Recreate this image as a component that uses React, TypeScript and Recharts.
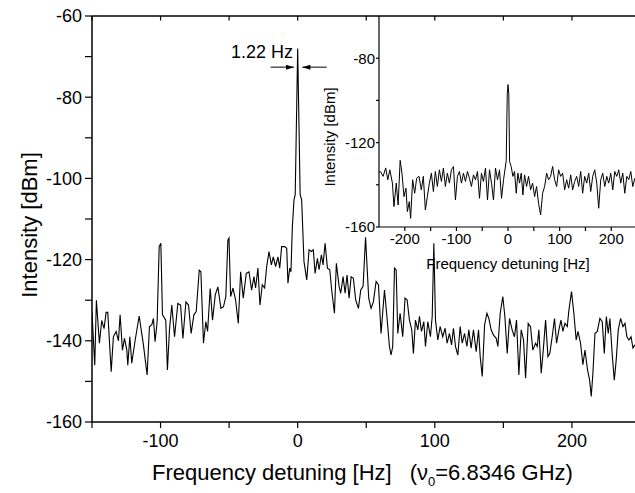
import { LineChart, Line, XAxis, YAxis, ReferenceLine } from 'recharts'

const FONT = '"Liberation Sans", Arial, sans-serif'

// main spectrum, frequency detuning [Hz]
const mainFreq = [
  -150, -148, -146.8, -144.6, -142.9, -141.2, -139.7, -138.5, -136, -134.4,
  -132.4, -130.7, -129.5, -127.8, -126.3, -124.6, -123.9, -122.4, -121, -118.5,
  -115.6, -112.5, -109.8, -108.1, -106.4, -105.2, -104, -102.5, -101, -99.8,
  -98.6, -96.2, -95, -93.5, -91.8, -89.8, -87.4, -85.4, -83.7, -81.5,
  -79.6, -77.7, -75.7, -74, -71.8, -70.6, -68.7, -67, -65.7, -63.8,
  -62.1, -60.1, -58.2, -56, -54.1, -52.4, -50.9, -50.1, -48.9, -47.2,
  -45.3, -43.3, -41.6, -39.7, -37.5, -35.5, -33.6, -31.9, -30.7, -29,
  -27.5, -25.8, -24.1, -22.6, -20.9, -19.2, -17.8, -16.1, -14.4, -13.1,
  -11.7, -9.5, -8, -7.1, -5.8, -4.9, -3.9, -2.7, -1.8, -0.7,
  0, 0.7, 1.8, 2.9, 4.6, 6.6, 8.3, 10, 11.4, 12.7,
  14.4, 15.6, 17.3, 18.5, 20, 21.7, 23.4, 24.8, 26.8, 28.2,
  30.2, 31.4, 33.1, 34.6, 36, 37.5, 39, 40.6, 42.3, 44.3,
  46, 47.7, 49.5, 51.8, 53.5, 55.2, 57.2, 58.9, 60.8, 63.3,
  65.2, 66.9, 68.1, 69.3, 70.6, 71.8, 73, 74.7, 76.6, 78.3,
  79.8, 81.5, 83.2, 84.4, 85.9, 87.6, 88.8, 90.3, 92, 93.2,
  94.9, 96.8, 98.1, 99.3, 100.5, 102.2, 103.9, 105.8, 107.5, 109,
  110.7, 112.2, 113.6, 115.1, 116.8, 118.5, 120, 121.7, 123.4, 124.8,
  126.5, 128.2, 130.2, 131.9, 133.1, 134.6, 136.3, 138, 139.4, 141.1,
  142.8, 144.8, 146, 147.7, 149.6, 151.1, 152.8, 154.5, 156.4, 158.1,
  159.6, 161.3, 163, 164.7, 166.2, 168.1, 169.8, 171.5, 173.5, 174.7,
  175.9, 177.6, 179.1, 180.8, 182.5, 183.9, 185.6, 187.3, 188.8, 190.5,
  192, 193.4, 194.9, 196.6, 197.8, 199.7, 201.4, 203.1, 204.4, 206.3,
  208, 209.5, 211.4, 212.9, 214.1, 215.3, 216.8, 218.5, 220.4, 222.1,
  223.6, 225.1, 226.5, 227.7, 229.4, 230.9, 232.3, 233.8, 235.5, 237.2,
  238.7, 240.1, 241.6, 243.1, 244.5, 246,
]

// main spectrum, intensity [dBm]
const mainDb = [
  -133, -146, -130, -140.6, -135, -137, -133, -133, -147.6, -139,
  -137.7, -140, -133.6, -142.3, -139.4, -142.3, -146, -139, -145.5, -139.8,
  -133.9, -141, -148.4, -136.5, -136.1, -134.5, -140.2, -135.3, -116.8, -116,
  -133.6, -134.9, -147.2, -137.3, -131.2, -139, -130.8, -131.2, -139.4, -130.4,
  -131.2, -138.2, -133.6, -132.8, -122.6, -123, -140.6, -135.3, -137.7, -127.1,
  -134.9, -128.7, -126.7, -132, -131.6, -129.1, -115.2, -114.7, -129.1, -127,
  -129.9, -135.7, -123, -129.5, -123.4, -123, -127.5, -124.2, -127, -122.1,
  -131.2, -126.2, -127, -121.7, -118, -121.3, -119.3, -121.7, -119.3, -122.1,
  -116.8, -116.8, -117.2, -125.8, -122.1, -123, -112, -105.3, -104, -82,
  -68, -82, -104, -105.3, -120.5, -125, -117.6, -118, -117.6, -123.4,
  -119.7, -122.5, -118.8, -121.3, -116, -122.1, -122.5, -127.5, -133.2, -120.9,
  -126.6, -128.3, -124.2, -128.3, -123.8, -129.5, -124.2, -124.6, -129.9, -132,
  -127.5, -126.6, -114.5, -129.5, -132, -130.4, -125.4, -126.2, -138.2, -127.5,
  -134.5, -141.4, -143.5, -141.4, -122.1, -122.5, -138.2, -133.2, -139, -129.5,
  -129.9, -134.9, -137.3, -143.1, -134.9, -137.3, -134, -137.7, -135.3, -141.4,
  -135.3, -139, -134, -116, -134.9, -139.8, -136.5, -139, -136.9, -140.6,
  -138.2, -141, -136.9, -141.4, -143.5, -136.5, -140.6, -138.2, -141.4, -137.3,
  -141.8, -137.3, -142.7, -137.3, -143.9, -148.8, -136.1, -133.2, -134.5, -137.3,
  -138.6, -139.4, -141.4, -133.2, -129.1, -134, -143.1, -134.5, -137.3, -139,
  -134.9, -148.4, -137.3, -139.8, -149.2, -135.7, -136.5, -142.3, -140.6, -141.4,
  -137.3, -148, -142.3, -134.9, -143.9, -143.1, -139, -134.5, -140.6, -137.3,
  -134.9, -137.7, -135.7, -136.5, -132.4, -127.9, -133.2, -139.8, -137.7, -140.6,
  -145.9, -142.3, -147.2, -149.7, -153.7, -148, -138.2, -137.7, -134.5, -135.3,
  -143.1, -134, -138.2, -134.5, -143.5, -149.7, -144.7, -137.3, -134.5, -136.5,
  -135.7, -139, -139.8, -139, -141.8, -141,
]

// inset spectrum (wide span)
const insetFreq = [
  -253, -247, -242, -237, -233, -229, -224, -221, -216.5, -213,
  -209, -205.5, -201.6, -197.7, -195, -191.3, -188.7, -184.8, -180.9, -177,
  -172.5, -168, -164.1, -160.2, -156.3, -152.4, -148.5, -144.6, -140.8, -136.9,
  -133, -129.1, -125.2, -121.4, -117.5, -113.6, -109.7, -105.8, -101.9, -98,
  -94.2, -90.3, -86.4, -82.5, -78.6, -74.8, -70.9, -67, -63.1, -59.2,
  -55.3, -51.5, -47.6, -43.7, -39.8, -35.9, -32, -28.2, -24.3, -20.4,
  -16.5, -12.6, -8.7, -5.5, -3.5, -1.5, 0, 1.5, 3, 6.1,
  9.4, 12.6, 15.9, 19.1, 22.3, 25.6, 28.8, 32, 35.9, 39.8,
  43.7, 47.6, 51.5, 55.3, 59.2, 63.1, 67, 70.9, 74.8, 78.6,
  82.5, 86.4, 90.3, 94.2, 98, 101.9, 105.8, 109.7, 113.6, 117.5,
  121.4, 125.2, 129.1, 133, 136.9, 140.8, 144.6, 148.5, 152.4, 156.3,
  160.2, 164.1, 168, 171.9, 175.7, 179.6, 183.5, 187.4, 191.3, 195.1,
  199, 202.9, 206.8, 210.7, 214.5, 218.4, 222.3, 226.2, 230.1, 233.9,
  237.8, 241.7, 245.6,
]

const insetDb = [
  -134.5, -133.7, -136, -132, -137.6, -132.9, -139.2, -150.3, -139.2, -149.6,
  -128.4, -134.5, -145.6, -141.6, -152.7, -148, -155.9, -137.6, -144, -136.9,
  -136, -142.4, -136, -151.9, -145.6, -139.2, -134.5, -143.2, -133.7, -140.8,
  -132.9, -138.4, -132.1, -140.8, -134.5, -139.2, -132.9, -131.3, -147.2, -136,
  -133.7, -139.2, -134.5, -138.4, -133.7, -136.9, -140.8, -135.3, -137.6, -133.7,
  -146.4, -134.5, -138.4, -132.1, -147.2, -132.9, -139.2, -147.2, -132.1, -137.6,
  -132.9, -146.4, -137.6, -132.1, -128.5, -97, -92.5, -97, -129, -131.3,
  -136, -133.7, -144, -134.5, -139.2, -134.5, -144.8, -135.3, -140.8, -136,
  -142.4, -139.2, -145.6, -140.8, -148.8, -154.3, -144, -140.8, -134.5, -137.6,
  -136, -131.3, -137.6, -140.8, -132.9, -136, -134.5, -142.4, -137.6, -141.6,
  -135.3, -142.4, -138.4, -136, -140.8, -133.7, -144, -136, -139.2, -134.5,
  -143.2, -136, -132.9, -139.2, -151.1, -137.6, -134.5, -140.8, -136, -139.2,
  -134.5, -142.4, -133.7, -136, -132.9, -139.2, -134.5, -144, -136, -137.6,
  -133.7, -140.8, -136.9,
]

const mainXTicks = [-150, -100, -50, 0, 50, 100, 150, 200]
const mainYTicks = [-160, -150, -140, -130, -120, -110, -100, -90, -80, -70, -60]
const insetXTicks = [-200, -150, -100, -50, 0, 50, 100, 150, 200]
const insetYTicks = [-160, -140, -120, -100, -80]

const linewidthLabel = '1.22 Hz'

const mainData = mainFreq.map((f, i) => ({ f, db: mainDb[i] }))
const insetData = insetFreq.map((f, i) => ({ f, db: insetDb[i] }))

const axisLine = { stroke: '#000', strokeWidth: 1.5 }
const tickLine = { stroke: '#000', strokeWidth: 1.2 }

function arrowShape(withText: boolean) {
  return (p: any) => {
    const { x1, y1, x2, y2 } = p
    const dir = Math.sign(x2 - x1)
    return (
      <g>
        <line x1={x1} y1={y1} x2={x2} y2={y2} stroke="#000" strokeWidth={1} />
        <polygon
          points={`${x2},${y2} ${x2 - dir * 8},${y2 - 2.5} ${x2 - dir * 8},${y2 + 2.5}`}
          fill="#000"
        />
        {withText && (
          <text x={x2 - 1} y={y1 - 9} textAnchor="end" fontSize={18} fontFamily={FONT} fill="#000">
            {linewidthLabel}
          </text>
        )}
      </g>
    )
  }
}

export default function App() {
  return (
    <div style={{ position: 'absolute', left: 0, top: 0, width: 635, height: 493, background: '#fff', fontFamily: FONT }}>
      <LineChart width={635} height={493} data={mainData} margin={{ top: 16, right: 0, bottom: 0, left: 20 }}>
        <XAxis
          dataKey="f"
          type="number"
          domain={[-150, 246]}
          ticks={mainXTicks}
          interval={0}
          allowDataOverflow
          height={71}
          tickSize={6}
          tickMargin={6}
          axisLine={axisLine}
          tickLine={tickLine}
          tick={{ fill: '#000', fontSize: 18, fontFamily: FONT }}
          tickFormatter={(v: number) => (v % 100 === 0 ? String(v) : '')}
        />
        <YAxis
          type="number"
          domain={[-160, -60]}
          ticks={mainYTicks}
          interval={0}
          width={72}
          tickSize={7}
          tickMargin={3}
          axisLine={axisLine}
          tickLine={tickLine}
          tick={{ fill: '#000', fontSize: 18, fontFamily: FONT }}
          tickFormatter={(v: number) => (v % 20 === 0 ? String(v) : '')}
        />
        {/* top frame line with inward ticks */}
        <ReferenceLine y={-60} stroke="#000" strokeWidth={1.5} />
        {mainXTicks.map((t) => (
          <ReferenceLine
            key={t}
            segment={[{ x: t, y: -60 }, { x: t, y: -61.1 }]}
            stroke="#000"
            strokeWidth={1.2}
          />
        ))}
        <Line
          dataKey="db"
          stroke="#000"
          strokeWidth={1.1}
          dot={false}
          isAnimationActive={false}
        />
        <ReferenceLine segment={[{ x: -19.7, y: -72.6 }, { x: -2.7, y: -72.6 }]} shape={arrowShape(true)} />
        <ReferenceLine segment={[{ x: 21.2, y: -72.6 }, { x: 3.4, y: -72.6 }]} shape={arrowShape(false)} />
      </LineChart>

      <div style={{ position: 'absolute', left: 320, top: 0 }}>
        <LineChart width={315} height={290} data={insetData} margin={{ top: 16, right: 0, bottom: 0, left: 0 }}>
          <XAxis
            dataKey="f"
            type="number"
            domain={[-250, 246]}
            ticks={insetXTicks}
            interval={0}
            allowDataOverflow
            height={63}
            tickSize={4}
            tickMargin={2}
            axisLine={{ stroke: '#000', strokeWidth: 1.2 }}
            tickLine={tickLine}
            tick={{ fill: '#000', fontSize: 15, fontFamily: FONT }}
            tickFormatter={(v: number) => (v % 100 === 0 ? String(v) : '')}
          />
          <YAxis
            type="number"
            domain={[-160, -60]}
            ticks={insetYTicks}
            interval={0}
            width={59}
            tickSize={3}
            tickMargin={1}
            axisLine={{ stroke: '#000', strokeWidth: 1.2 }}
            tickLine={tickLine}
            tick={{ fill: '#000', fontSize: 15, fontFamily: FONT }}
            tickFormatter={(v: number) => (v % 40 === 0 ? String(v) : '')}
          />
          <Line dataKey="db" stroke="#000" strokeWidth={1} dot={false} isAnimationActive={false} />
        </LineChart>
      </div>

      <div
        style={{
          position: 'absolute', left: 30, top: 225, fontSize: 22, lineHeight: '22px', whiteSpace: 'nowrap',
          transform: 'translate(-50%, -50%) rotate(-90deg)',
        }}
      >
        Intensity [dBm]
      </div>
      <div style={{ position: 'absolute', left: 152, top: 462, fontSize: 22, lineHeight: '22px', whiteSpace: 'nowrap' }}>
        Frequency detuning [Hz]
        <span style={{ marginLeft: 18 }}>
          (ν<sub style={{ fontSize: 13, verticalAlign: '-6px' }}>0</sub>=6.8346 GHz)
        </span>
      </div>
      <div
        style={{
          position: 'absolute', left: 329, top: 137, fontSize: 15, lineHeight: '15px', whiteSpace: 'nowrap',
          transform: 'translate(-50%, -50%) rotate(-90deg)',
        }}
      >
        Intensity [dBm]
      </div>
      <div
        style={{
          position: 'absolute', left: 508, top: 263, fontSize: 15, lineHeight: '15px', whiteSpace: 'nowrap',
          transform: 'translate(-50%, -50%)',
        }}
      >
        Frequency detuning [Hz]
      </div>
    </div>
  )
}
